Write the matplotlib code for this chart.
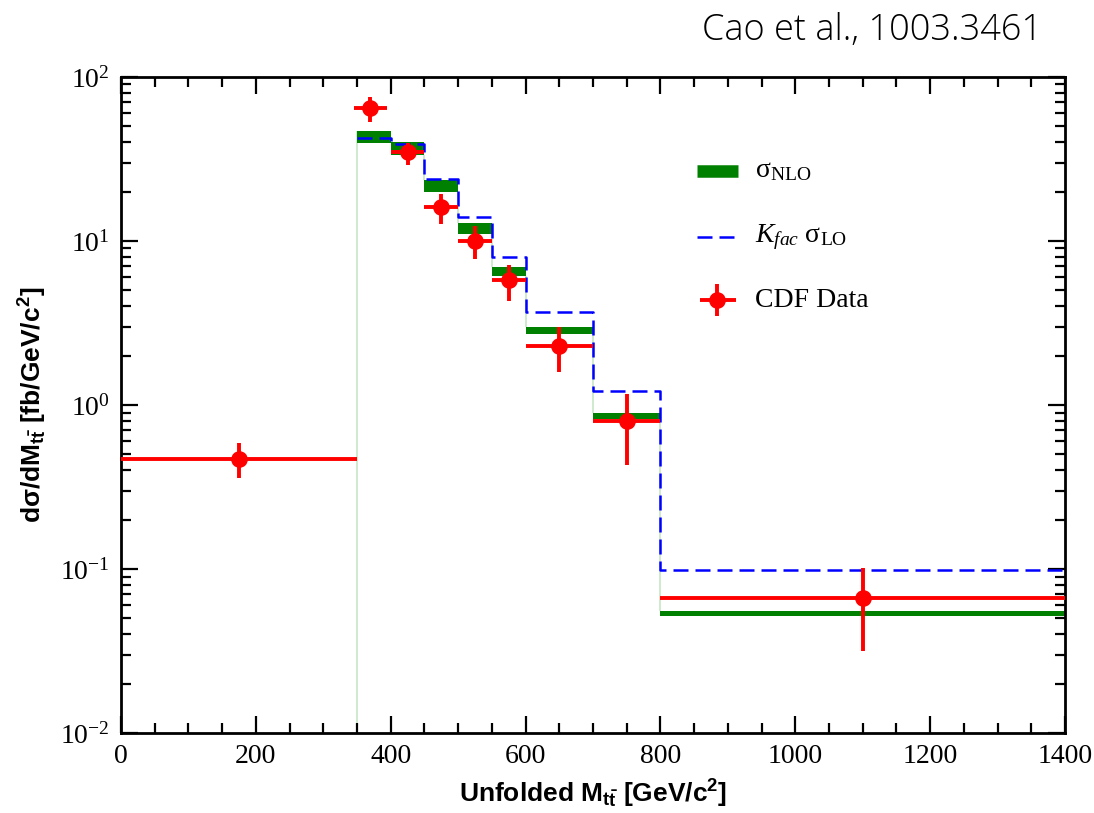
import numpy as np
import matplotlib
matplotlib.use("Agg")
import matplotlib.pyplot as plt
from matplotlib.ticker import MultipleLocator, LogLocator, LogFormatterSciNotation, NullFormatter

plt.rcParams['mathtext.fontset'] = 'custom'
plt.rcParams['mathtext.rm'] = 'Liberation Serif'
plt.rcParams['mathtext.it'] = 'Liberation Serif:italic'
plt.rcParams['mathtext.default'] = 'regular'

# bin edges of the Mtt distribution (GeV/c^2)
edges = [350, 400, 450, 500, 550, 600, 700, 800, 1400]

# NLO band (lower / upper edge per bin)
nlo_lo = [39.7, 33.4, 19.8, 11.0, 6.12, 2.71, 0.819, 0.0516]
nlo_hi = [46.9, 40.0, 23.6, 12.9, 6.97, 3.00, 0.897, 0.0557]

# K-factor scaled LO
lo_k = [42.3, 39.0, 23.9, 13.95, 8.02, 3.67, 1.22, 0.0990]

# CDF data
data_x = [175, 370, 425, 475, 525, 575, 650, 750, 1100]
data_xlo = [0, 345, 400, 450, 500, 550, 600, 700, 800]
data_xhi = [350, 395, 450, 500, 550, 600, 700, 800, 1400]
data_y = [0.469, 64.4, 34.8, 16.2, 10.0, 5.78, 2.30, 0.799, 0.0670]
data_yup = [0.586, 75.2, 39.5, 19.4, 12.35, 7.14, 3.00, 1.17, 0.101]
data_ydn = [0.359, 52.9, 29.0, 12.7, 7.73, 4.33, 1.58, 0.43, 0.0318]

fig = plt.figure(figsize=(10.94, 8.13), dpi=100)
ax = fig.add_axes([0.1106, 0.0984, 0.8629, 0.8069])

green = '#008000'
pale = '#c6e6c6'
dash = (0, (6, 2.8))

# NLO band
e = np.array(edges)
ax.fill_between(e, nlo_lo + [nlo_lo[-1]], nlo_hi + [nlo_hi[-1]], step='post',
                color=green, linewidth=0, zorder=2)
prev = [1e-3] + nlo_lo[:-1]
ax.vlines(e[:-1], prev, nlo_hi, color=pale, linewidth=1.2, zorder=1)

# K_fac * LO
ax.step(e, lo_k + [lo_k[-1]], where='post', color='blue', linewidth=1.8,
        linestyle=dash, zorder=3)

# data
dx = np.array(data_x)
dy = np.array(data_y)
xerr = [dx - np.array(data_xlo), np.array(data_xhi) - dx]
yerr = [dy - np.array(data_ydn), np.array(data_yup) - dy]
ax.errorbar(dx, dy, xerr=xerr, yerr=yerr, fmt='o', color='red', ecolor='red',
            markersize=11, elinewidth=2.8, capsize=0, zorder=4)

ax.set_yscale('log')
ax.set_xlim(0, 1400)
ax.set_ylim(1e-2, 1e2)

ax.xaxis.set_major_locator(MultipleLocator(200))
ax.xaxis.set_minor_locator(MultipleLocator(50))
ax.yaxis.set_major_locator(LogLocator(base=10, numticks=10))
ax.yaxis.set_minor_locator(LogLocator(base=10, subs=np.arange(2, 10), numticks=20))
ax.yaxis.set_major_formatter(LogFormatterSciNotation())
ax.yaxis.set_minor_formatter(NullFormatter())

ax.tick_params(which='both', direction='in', top=True, right=True, width=1.6)
ax.tick_params(which='major', length=12, labelsize=20, pad=8)
ax.tick_params(which='minor', length=7)
for lab in ax.get_xticklabels() + ax.get_yticklabels():
    lab.set_family('Liberation Serif')
for sp in ax.spines.values():
    sp.set_linewidth(2)

ax.set_xlabel(r'Unfolded M$_{t\bar{t}}$ [GeV/c$^{2}$]', family='Liberation Sans',
              fontweight='bold', fontsize=19, labelpad=6)
ax.set_ylabel(r'd$\sigma$/dM$_{t\bar{t}}$ [fb/GeV/c$^{2}$]', family='Liberation Sans',
              fontweight='bold', fontsize=19, labelpad=8)

# legend drawn by hand
tr = ax.transAxes
ax.plot([0.610, 0.654], [0.857, 0.857], transform=tr, color=green, linewidth=9,
        solid_capstyle='butt', clip_on=False)
ax.text(0.672, 0.857, r'$\sigma_{NLO}$', transform=tr, fontsize=20,
        family='Liberation Serif', va='center')
ax.plot([0.610, 0.650], [0.756, 0.756], transform=tr, color='blue', linewidth=1.8,
        linestyle=dash, clip_on=False)
ax.text(0.672, 0.756, r'$\mathit{K}_{\mathit{fac}}\ \sigma_{LO}$', transform=tr,
        fontsize=20, family='Liberation Serif', va='center')
ax.errorbar([0.631], [0.660], xerr=[[0.018], [0.020]], yerr=[[0.025], [0.025]],
            transform=tr, fmt='o', color='red', markersize=11, elinewidth=2.8,
            capsize=0, clip_on=False)
ax.text(0.672, 0.660, 'CDF Data', transform=tr, fontsize=20,
        family='Liberation Serif', va='center')

fig.text(0.953, 0.962, 'Cao et al., 1003.3461', ha='right', va='center',
         family='Open Sans', fontweight='light', fontsize=26, color='#000000')

fig.savefig('out.png', dpi=100)
